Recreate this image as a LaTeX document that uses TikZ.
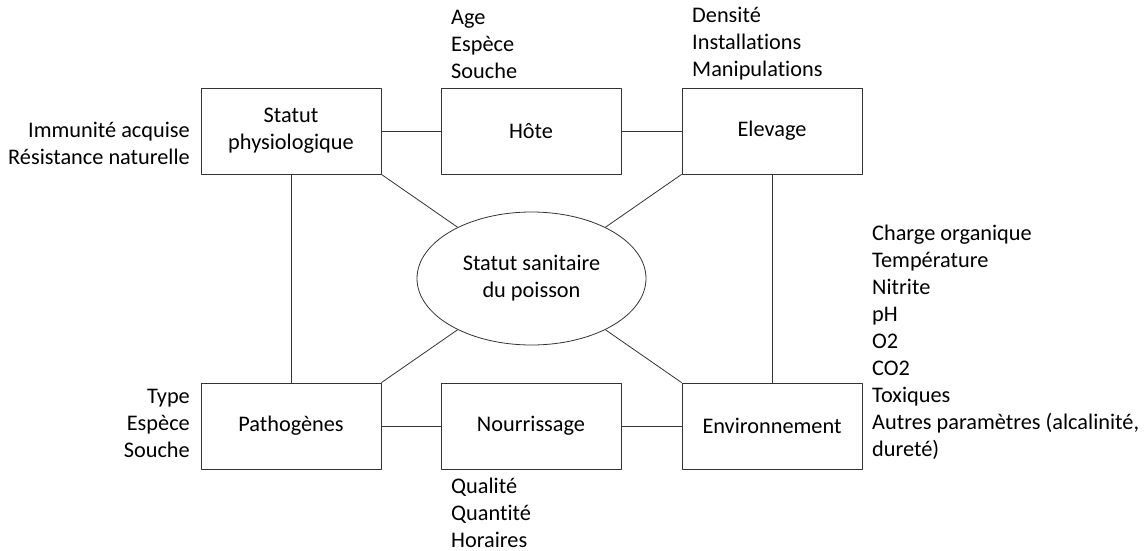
\documentclass[tikz,border=0pt]{standalone}
\usepackage{fontspec}
\setmainfont{Carlito}[Ligatures=NoCommon]
\usetikzlibrary{shapes.geometric}

\begin{document}
\begin{tikzpicture}[x=1pt, y=-1pt, line join=bevel]

    % \w and \h are the size of the six boxes
    \pgfmathsetmacro{\w}{180}
    \pgfmathsetmacro{\h}{86}

    \tikzset{%
      factor/.style  = {draw=black!80, line width=0.8pt, rectangle, align=center,
                        minimum width=\w pt, minimum height=\h pt, inner sep=0pt},
      health/.style  = {draw=black!80, line width=0.8pt, ellipse, align=center,
                        minimum width=229pt, minimum height=133pt, inner sep=0pt},
      link/.style    = {draw=black!80, line width=0.8pt},
      details/.style = {inner sep=0pt, font=\fontsize{22.3}{27}\selectfont}
    }

    \useasboundingbox (0,0) rectangle (1148,551);

    \begin{scope}[every node/.append style={font=\fontsize{22.3}{27}\selectfont}]
      % top row
      \node[factor] (physio)  at (291,131) {Statut\\physiologique};
      \node[factor] (host)    at (531,131) {Hôte};
      \node[factor] (farming) at (772,131) {Elevage};
      % bottom row
      \node[factor] (pathogen) at (291,426) {Pathogènes};
      \node[factor] (feeding)  at (531,426) {Nourrissage};
      \node[factor] (environ)  at (772,426) {Environnement};
      % centre
      \node[health] (fish) at (531.5,278.5) {Statut sanitaire\\du poisson};
    \end{scope}

    % connections between the factors
    \draw[link] (physio)   -- (host);
    \draw[link] (host)     -- (farming);
    \draw[link] (pathogen) -- (feeding);
    \draw[link] (feeding)  -- (environ);
    \draw[link] (physio.south)  -- (pathogen.north);
    \draw[link] (farming.south) -- (environ.north);

    % connections to the centre
    \draw[link] (physio.south east)   -- (fish);
    \draw[link] (farming.south west)  -- (fish);
    \draw[link] (pathogen.north east) -- (fish);
    \draw[link] (environ.north west)  -- (fish);

    % lists of details
    \node[details, anchor=east, align=right] (physio list) at (190,143)
      {Immunité acquise\\Résistance naturelle};
    \node[details, anchor=west, align=left] (host list) at (451,44)
      {Age\\Espèce\\Souche};
    \node[details, anchor=west, align=left] (farming list) at (692,44)
      {Densité\\Installations\\Manipulations};
    \node[details, anchor=west, align=left] (environ list) at (872,342)
      {Charge organique\\Température\\Nitrite\\pH\\O2\\CO2\\Toxiques\\%
       Autres paramètres (alcalinité,\\dureté)};
    \node[details, anchor=east, align=right] (pathogen list) at (190,423)
      {Type\\Espèce\\Souche};
    \node[details, anchor=west, align=left] (feeding list) at (451,513)
      {Qualité\\Quantité\\Horaires};

\end{tikzpicture}
\end{document}
